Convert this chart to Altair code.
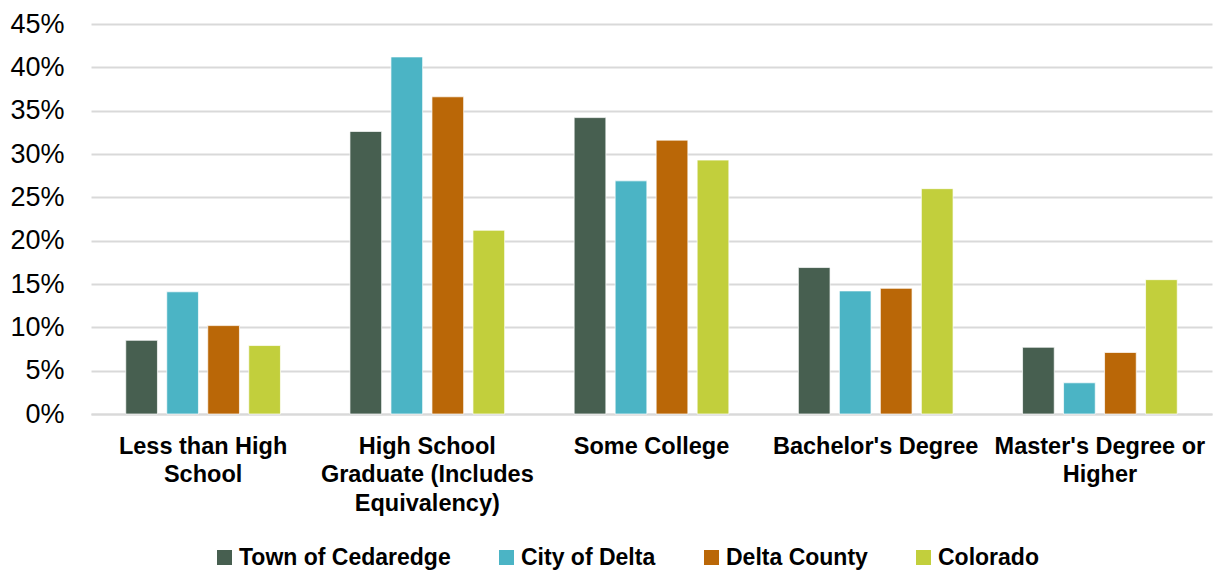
import altair as alt
import pandas as pd

# Educational attainment categories (line breaks mark label wrapping)
categories = [
    "Less than High\nSchool",
    "High School\nGraduate (Includes\nEquivalency)",
    "Some College",
    "Bachelor's Degree",
    "Master's Degree or\nHigher",
]

series = ["Town of Cedaredge", "City of Delta", "Delta County", "Colorado"]
colors = ["#475F50", "#4BB4C5", "#BA6707", "#C2CF3C"]

# Share of population (%) by attainment level
town_of_cedaredge = [8.5, 32.6, 34.2, 16.9, 7.7]
city_of_delta = [14.1, 41.2, 26.9, 14.2, 3.6]
delta_county = [10.2, 36.6, 31.6, 14.5, 7.1]
colorado = [7.9, 21.2, 29.3, 26.0, 15.5]

values_by_series = [town_of_cedaredge, city_of_delta, delta_county, colorado]

rows = []
for name, vals in zip(series, values_by_series):
    for cat, v in zip(categories, vals):
        rows.append({"category": cat, "series": name, "value": v})
df = pd.DataFrame(rows)

y_ticks = list(range(0, 50, 5))

chart = (
    alt.Chart(df)
    .mark_bar(stroke="white", strokeWidth=1, strokeOpacity=0.7)
    .encode(
        x=alt.X(
            "category:N",
            sort=categories,
            title=None,
            scale=alt.Scale(paddingInner=0.31, paddingOuter=0.155),
            axis=alt.Axis(
                labelAngle=0,
                labelExpr="split(datum.value, '\\n')",
                labelFont="Liberation Sans",
                labelFontWeight="bold",
                labelFontSize=23.5,
                labelLineHeight=28.5,
                labelColor="#000000",
                labelPadding=20,
                labelBaseline="top",
                labelLimit=400,
                ticks=False,
                domain=True,
                domainColor="#D9D9D9",
                domainWidth=2,
                grid=False,
            ),
        ),
        xOffset=alt.XOffset(
            "series:N",
            sort=series,
            scale=alt.Scale(paddingInner=0.227, paddingOuter=0),
        ),
        y=alt.Y(
            "value:Q",
            title=None,
            scale=alt.Scale(domain=[0, 45], nice=False),
            axis=alt.Axis(
                values=y_ticks,
                labelExpr="datum.value + '%'",
                labelFont="Liberation Sans",
                labelFontSize=27,
                labelColor="#000000",
                labelPadding=27,
                ticks=False,
                domain=False,
                grid=True,
                gridColor="#D9D9D9",
                gridWidth=2,
            ),
        ),
        color=alt.Color(
            "series:N",
            sort=series,
            scale=alt.Scale(domain=series, range=colors),
            legend=alt.Legend(
                title=None,
                orient="none",
                direction="horizontal",
                columns=4,
                gridAlign="none",
                legendX=122,
                legendY=522,
                padding=0,
                symbolType="square",
                symbolSize=225,
                symbolStrokeWidth=0,
                symbolOpacity=1,
                labelFont="Liberation Sans",
                labelFontWeight="bold",
                labelFontSize=23,
                labelColor="#000000",
                labelOffset=3,
                columnPadding=44,
                labelLimit=400,
            ),
        ),
    )
    .properties(
        width=1121,
        height=390,
        background="white",
        padding={"left": 91, "top": 24, "right": 4, "bottom": 156},
        autosize=alt.AutoSizeParams(type="none"),
    )
    .configure_view(strokeWidth=0, stroke="transparent")
)

chart.save("out.html", embed_options={"renderer": "svg", "actions": False})
